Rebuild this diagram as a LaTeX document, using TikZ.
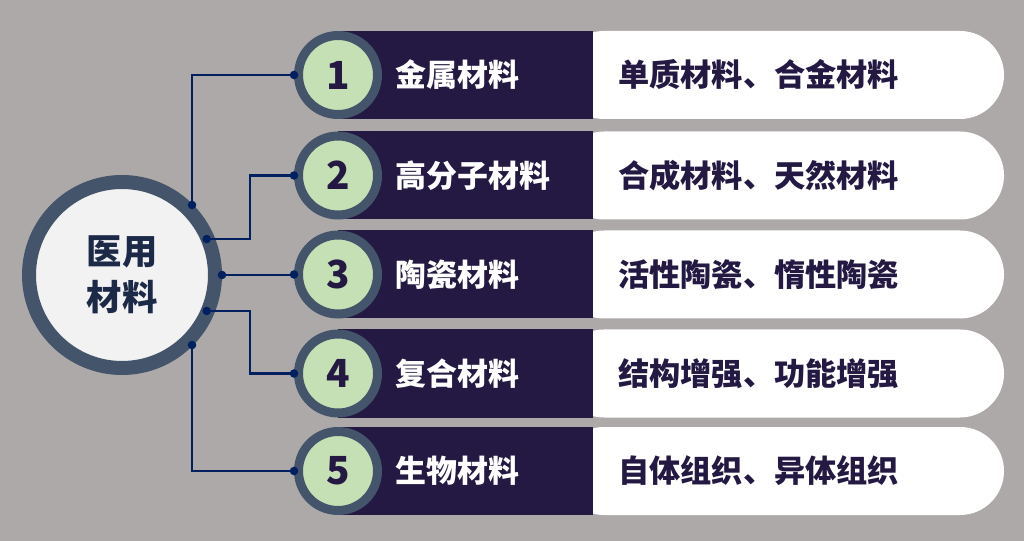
\documentclass[tikz,border=0pt]{standalone}
\usepackage{fontspec}
\newfontfamily\cjk{Noto Sans CJK SC}
\definecolor{bg}{HTML}{ADA9A8}
\definecolor{band}{HTML}{231942}
\definecolor{ring}{HTML}{44546A}
\definecolor{numfill}{HTML}{C5E0B4}
\definecolor{hubfill}{HTML}{F2F2F2}
\definecolor{wire}{HTML}{002060}
\definecolor{hubtext}{HTML}{1C2A48}
\begin{document}
\begin{tikzpicture}[x=0.75pt,y=-0.75pt,
  hub/.style={circle,draw=ring,line width=10.5pt,fill=hubfill,minimum size=139.5pt,inner sep=0pt,
    text=hubtext,font=\cjk\bfseries\fontsize{26.5pt}{34.5pt}\selectfont,align=center},
  numc/.style={circle,draw=ring,line width=6.75pt,fill=numfill,minimum size=59.25pt,inner sep=0pt,
    text=band,font=\cjk\bfseries\fontsize{29pt}{34pt}\selectfont},
  lab/.style={anchor=west,text=white,inner sep=0pt,font=\cjk\bfseries\fontsize{23.2pt}{28pt}\selectfont},
  desc/.style={anchor=west,text=band,inner sep=0pt,font=\cjk\bfseries\fontsize{23.4pt}{28pt}\selectfont},
  wirel/.style={draw=wire,line width=1.6pt},
  dot/.style={fill=wire}]
\fill[bg] (0,0) rectangle (1024,541);
\useasboundingbox (0,0) rectangle (1024,541);
\foreach \i/\yc/\lbl/\dsc in {1/75/金属材料/单质材料、合金材料,
                              2/175.5/高分子材料/合成材料、天然材料,
                              3/274.5/陶瓷材料/活性陶瓷、惰性陶瓷,
                              4/373.5/复合材料/结构增强、功能增强,
                              5/471/生物材料/自体组织、异体组织}{
  \fill[white,rounded corners=33pt] (560,\yc-44) rectangle (1004,\yc+44);
  \fill[band] (338,\yc-44) rectangle (593,\yc+44);
  \node[numc] (n\i) at (338,\yc) {\i};
  \node[lab] (l\i) at (395,\yc) {\lbl};
  \node[desc] (d\i) at (618,\yc) {\dsc};
}
\node[hub] (c) at (122,275) {医用\\材料};
% connectors
\coordinate (p1) at ([shift={(-45:99)}]c.center);
\coordinate (p2) at ([shift={(-23:92)}]c.center);
\coordinate (p3) at ([shift={(0:100)}]c.center);
\coordinate (p4) at ([shift={(23:92)}]c.center);
\coordinate (p5) at ([shift={(45:99)}]c.center);
\path[wirel] (p1) |- (n1.west);
\path[wirel] (p2) -- ++(43,0) |- (n2.west);
\path[wirel] (p3) -- (p3 -| n3.west);
\path[wirel] (p4) -- ++(43,0) |- (n4.west);
\path[wirel] (p5) |- (n5.west);
\foreach \k in {1,...,5}{
  \fill[dot] (p\k) circle[radius=3.2pt];
  \fill[dot] (n\k.west) circle[radius=3.2pt];
}
\end{tikzpicture}
\end{document}
